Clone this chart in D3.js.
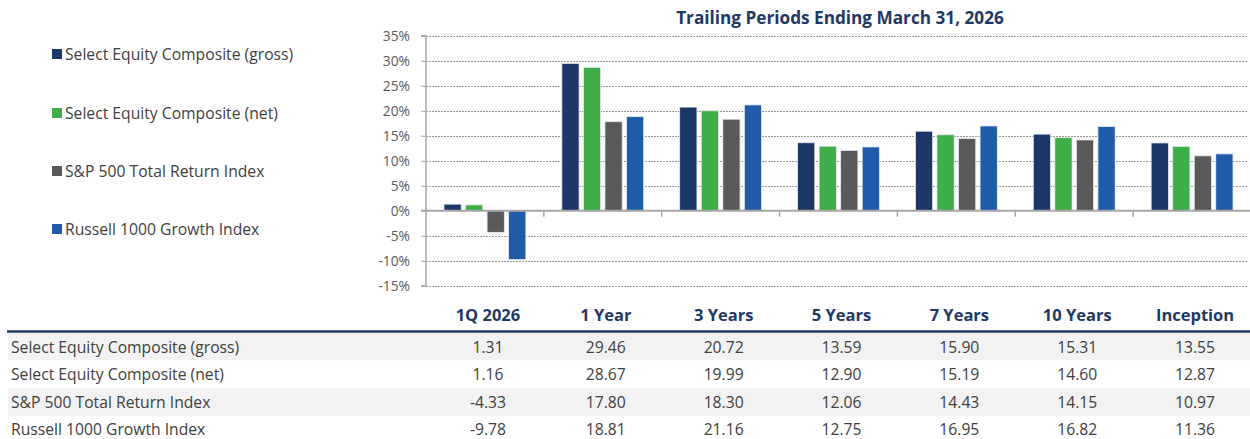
<!DOCTYPE html>
<html><head><meta charset="utf-8">
<script src="https://cdn.jsdelivr.net/npm/d3@7"></script>
<style>
html,body{margin:0;padding:0;background:#fff;}
svg{display:block;font-family:"Open Sans",sans-serif;}
</style></head><body>
<svg id="c" width="1250" height="439"></svg>
<script>
const title = "Trailing Periods Ending March 31, 2026";
const periods = ["1Q 2026","1 Year","3 Years","5 Years","7 Years","10 Years","Inception"];
const seriesNames = ["Select Equity Composite (gross)","Select Equity Composite (net)","S&P 500 Total Return Index","Russell 1000 Growth Index"];
const seriesColors = ["#1c3668","#3fae49","#595959","#1f5ba8"];
const gross = [1.31,29.46,20.72,13.59,15.90,15.31,13.55];
const net = [1.16,28.67,19.99,12.90,15.19,14.60,12.87];
const sp500 = [-4.33,17.80,18.30,12.06,14.43,14.15,10.97];
const r1000g = [-9.78,18.81,21.16,12.75,16.95,16.82,11.36];
const yTicks = [35,30,25,20,15,10,5,0,-5,-10,-15];
const seriesValues = [gross,net,sp500,r1000g];

const svg = d3.select("#c");
const plotL = 426, plotR = 1251, plotT = 35.7, plotB = 285.7;
const y = d3.scaleLinear().domain([-15,35]).range([plotB,plotT]);
const x0 = d3.scaleBand().domain(periods).range([plotL,plotR]).paddingInner(0).paddingOuter(0);
const x1 = d3.scaleBand().domain(d3.range(4)).range([18, x0.bandwidth()-18]).paddingInner(0.2).paddingOuter(0);

// title
svg.append("text").attr("x",840).attr("y",24).attr("text-anchor","middle")
  .attr("font-size",17.2).attr("font-weight",700).attr("fill","#1f3864").text(title);

// gridlines
svg.append("g").selectAll("line").data(yTicks.filter(d=>d!==0)).join("line")
  .attr("x1",plotL).attr("x2",1248).attr("y1",d=>Math.round(y(d))+0.5).attr("y2",d=>Math.round(y(d))+0.5)
  .attr("stroke","#9a9a9a").attr("stroke-width",1).attr("stroke-dasharray","2,1");

// y axis
const yAxis = d3.axisLeft(y).tickValues(yTicks).tickFormat(d=>d+"%").tickSize(5).tickPadding(11);
const ga = svg.append("g").attr("transform",`translate(${plotL},0)`).call(yAxis);
ga.select(".domain").attr("stroke","#a6a6a6").attr("stroke-width",1.5).attr("d",`M-5,${y(35)}H0V${y(-15)}H-5`);
ga.selectAll(".tick line").attr("stroke","#a6a6a6").attr("stroke-width",1);
ga.selectAll(".tick text").attr("font-size",13.8).attr("fill","#595959").attr("font-family","Open Sans");

// bars
const groups = svg.append("g").selectAll("g").data(periods).join("g")
  .attr("transform",d=>`translate(${x0(d)},0)`);
groups.selectAll("rect").data((p,i)=>seriesValues.map((s,k)=>({k,v:s[i]}))).join("rect")
  .attr("x",d=>x1(d.k)).attr("width",x1.bandwidth())
  .attr("y",d=>y(Math.max(0,d.v))).attr("height",d=>Math.abs(y(d.v)-y(0)))
  .attr("fill",d=>seriesColors[d.k]).attr("stroke","#e6ecf2").attr("stroke-width",0.8);

// zero line + category ticks
svg.append("line").attr("x1",plotL-5).attr("x2",1250).attr("y1",y(0)).attr("y2",y(0))
  .attr("stroke","#a6a6a6").attr("stroke-width",2);
svg.append("g").selectAll("line").data(periods.slice(1)).join("line")
  .attr("x1",d=>x0(d)).attr("x2",d=>x0(d)).attr("y1",y(0)).attr("y2",y(0)+6)
  .attr("stroke","#a6a6a6").attr("stroke-width",1.5);

// legend
const legY = [54,113,171,229];
const lg = svg.append("g").selectAll("g").data(seriesNames).join("g")
  .attr("transform",(d,i)=>`translate(52,${legY[i]})`);
lg.append("rect").attr("x",0).attr("y",-5).attr("width",10).attr("height",10).attr("fill",(d,i)=>seriesColors[i]);
lg.append("text").attr("x",13).attr("y",5.5).attr("font-size",15.7).attr("fill","#404040").text(d=>d);

// table
const rowTop = 333, rowH = 27.6;
const tbl = svg.append("g");
tbl.selectAll("rect.bg").data(seriesNames).join("rect").attr("class","bg")
  .attr("x",8).attr("width",1242).attr("y",(d,i)=>rowTop+i*rowH).attr("height",rowH)
  .attr("fill",(d,i)=>i%2===0?"#f2f2f2":"#ffffff");
tbl.append("line").attr("x1",7).attr("x2",1250).attr("y1",331.5).attr("y2",331.5)
  .attr("stroke","#1f3864").attr("stroke-width",2.5);
tbl.selectAll("text.hdr").data(periods).join("text").attr("class","hdr")
  .attr("x",d=>x0(d)+x0.bandwidth()/2+3).attr("y",321).attr("text-anchor","middle")
  .attr("font-size",16.5).attr("font-weight",700).attr("fill","#1f3864").text(d=>d);
tbl.selectAll("text.lab").data(seriesNames).join("text").attr("class","lab")
  .attr("x",11).attr("y",(d,i)=>rowTop+i*rowH+19.5).attr("font-size",15.7).attr("fill","#404040").text(d=>d);
seriesValues.forEach((s,k)=>{
  tbl.append("g").selectAll("text").data(s).join("text")
    .attr("x",(d,i)=>x0(periods[i])+x0.bandwidth()/2+3).attr("y",rowTop+k*rowH+19.5)
    .attr("text-anchor","middle").attr("font-size",15.7).attr("fill","#404040")
    .text(d=>d.toFixed(2));
});
</script></body></html>
